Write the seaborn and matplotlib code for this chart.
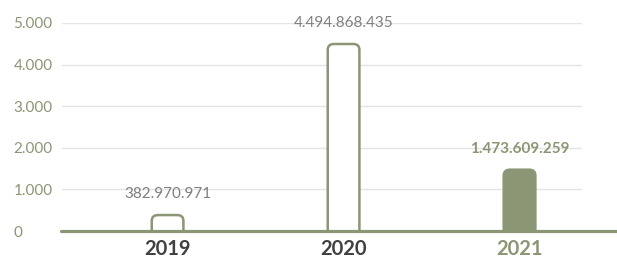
import seaborn as sns
import matplotlib.pyplot as plt
from matplotlib.patches import FancyBboxPatch

# datos (millones)
years = ['2019', '2020', '2021']
values = [382.970971, 4494.868435, 1473.609259]
value_labels = ['382.970.971', '4.494.868.435', '1.473.609.259']
y_ticks = [0, 1000, 2000, 3000, 4000, 5000]
y_tick_labels = ['0', '1.000', '2.000', '3.000', '4.000', '5.000']

olive = '#8A9674'
bar_fill = ['white', 'white', olive]
label_colors = ['#7F7F7F', '#7F7F7F', olive]
label_weights = ['normal', 'normal', 'bold']
xtick_colors = ['#404040', '#404040', olive]

sns.set_style('white')
plt.rcParams['font.family'] = ['Lato', 'DejaVu Sans']

fig = plt.figure(figsize=(6.17, 2.59), dpi=100)
ax = fig.add_axes([0.1005, 0.1081, 0.8428, 0.8031])

sns.barplot(x=years, y=values, ax=ax, width=0.18, color='white')
ax.set_xlim(-0.6, 2.355)
ax.set_ylim(0, 5000)

# barras con esquinas redondeadas
fig.canvas.draw()
px_x = ax.transData.transform((1, 0))[0] - ax.transData.transform((0, 0))[0]
px_y = ax.transData.transform((0, 1))[1] - ax.transData.transform((0, 0))[1]
aspect = px_x / px_y
r = 6 / px_x
for i, p in enumerate(list(ax.patches)):
    x, w, h = p.get_x(), p.get_width(), p.get_height()
    p.set_visible(False)
    fb = FancyBboxPatch((x, -r * aspect * 2), w, h + r * aspect * 2,
                        boxstyle=f'round,pad=0,rounding_size={r}',
                        mutation_aspect=aspect,
                        facecolor=bar_fill[i], edgecolor=olive, linewidth=1.8,
                        zorder=3)
    ax.add_patch(fb)
    ax.annotate(value_labels[i], (x + w / 2, h), xytext=(0, 15),
                textcoords='offset points', ha='center', va='center',
                fontsize=11, color=label_colors[i], fontweight=label_weights[i])

# rejilla y ejes
ax.set_yticks(y_ticks)
ax.set_yticklabels(y_tick_labels)
ax.yaxis.grid(True, color='#E4E4E4', linewidth=1)
ax.set_axisbelow(True)
for s in ax.spines.values():
    s.set_visible(False)
ax.plot([-0.002, 1.07], [0, 0], transform=ax.transAxes, color=olive,
        linewidth=2.3, clip_on=False, zorder=4)

ax.tick_params(axis='y', length=0, pad=35, labelsize=11, labelcolor=olive)
for t in ax.get_yticklabels():
    t.set_horizontalalignment('left')
ax.tick_params(axis='x', length=0, pad=5.5, labelsize=14.5)
for t, c in zip(ax.get_xticklabels(), xtick_colors):
    t.set_color(c)
    t.set_fontweight('bold')

plt.savefig('out.png', dpi=100)
